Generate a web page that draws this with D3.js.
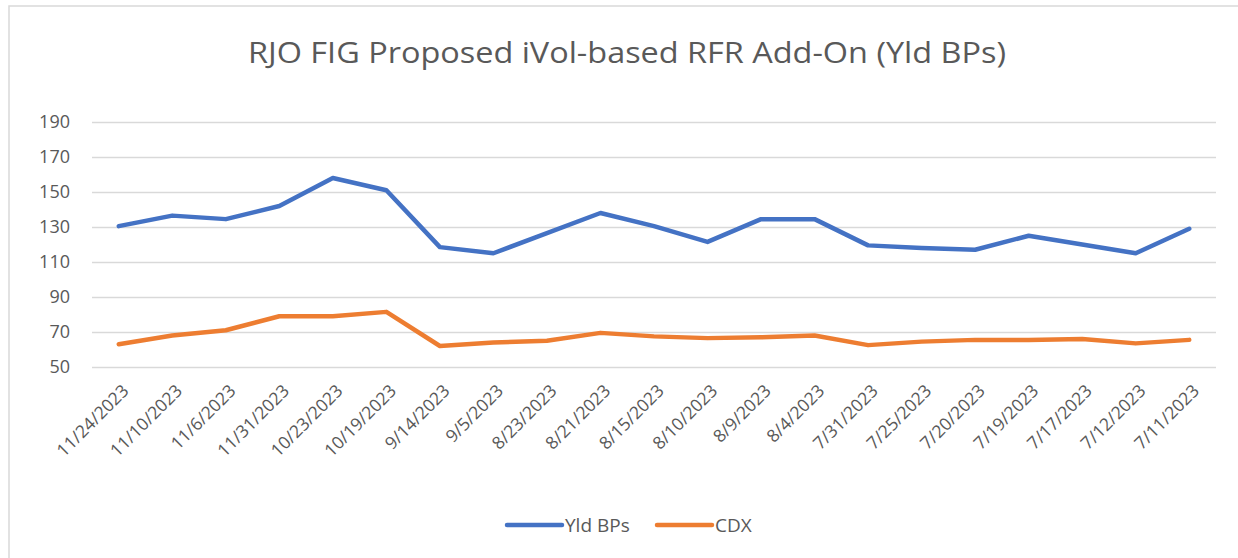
<!DOCTYPE html>
<html lang="en">
<head>
<meta charset="utf-8">
<title>RJO FIG Proposed iVol-based RFR Add-On</title>
<script src="https://d3js.org/d3.v7.min.js"></script>
<style>
  body { margin: 0; background: #fff; }
  text { font-family: "Open Sans", "DejaVu Sans", sans-serif; fill: #595959; }
</style>
</head>
<body>
<script>
'use strict';

// data
var dates = ["11/24/2023", "11/10/2023", "11/6/2023", "11/31/2023", "10/23/2023",
  "10/19/2023", "9/14/2023", "9/5/2023", "8/23/2023", "8/21/2023", "8/15/2023",
  "8/10/2023", "8/9/2023", "8/4/2023", "7/31/2023", "7/25/2023", "7/20/2023",
  "7/19/2023", "7/17/2023", "7/12/2023", "7/11/2023"];
var yldBps = [130.5, 136.5, 134.5, 142, 158, 151, 118.5, 115, 126.5, 138, 130.5,
  121.5, 134.5, 134.5, 119.5, 118, 117, 125, 120, 115, 129];
var cdx = [63, 68, 71, 79, 79, 81.5, 62, 64, 65, 69.5, 67.5,
  66.5, 67, 68, 62.5, 64.5, 65.5, 65.5, 66, 63.5, 65.5];
var yTicks = [50, 70, 90, 110, 130, 150, 170, 190];

var w = 1238, h = 558;
var plotLeft = 92, plotRight = 1216, plotTop = 122, plotBottom = 367;

var svg = d3.select("body").append("svg")
  .attr("width", w).attr("height", h);

// chart border
svg.append("rect")
  .attr("x", 9).attr("y", 6)
  .attr("width", w + 10).attr("height", h + 10)
  .attr("fill", "none")
  .attr("stroke", "#d9d9d9")
  .attr("stroke-width", 1.5);

var xScale = d3.scaleBand()
  .domain(dates)
  .range([plotLeft, plotRight]);
var yScale = d3.scaleLinear()
  .domain([50, 190])
  .range([plotBottom, plotTop]);

// title
svg.append("text")
  .attr("x", 627).attr("y", 63)
  .attr("text-anchor", "middle")
  .attr("font-size", "30px")
  .attr("textLength", 758)
  .attr("lengthAdjust", "spacingAndGlyphs")
  .text("RJO FIG Proposed iVol-based RFR Add-On (Yld BPs)");

// gridlines + y labels
var yAxis = d3.axisLeft(yScale)
  .tickValues(yTicks)
  .tickSize(-(plotRight - plotLeft))
  .tickPadding(22);
var gy = svg.append("g")
  .attr("transform", "translate(" + plotLeft + ",0)")
  .call(yAxis);
gy.select(".domain").remove();
gy.selectAll(".tick line").attr("stroke", "#d9d9d9").attr("stroke-width", 1.5);
gy.selectAll(".tick text").attr("font-size", "18px").attr("fill", "#595959");

// x labels
var xAxis = d3.axisBottom(xScale).tickSize(0).tickPadding(0);
var gx = svg.append("g")
  .attr("transform", "translate(0," + plotBottom + ")")
  .call(xAxis);
gx.select(".domain").remove();
gx.selectAll(".tick text")
  .attr("font-size", "17.5px")
  .attr("fill", "#595959")
  .attr("text-anchor", "end")
  .attr("dy", null)
  .attr("transform", "translate(11,25) rotate(-45)");

// lines
var line = d3.line()
  .x(function(d, i) { return xScale(dates[i]) + xScale.bandwidth() / 2; })
  .y(function(d) { return yScale(d); });

var series = [
  { name: "Yld BPs", values: yldBps, color: "#4472c4" },
  { name: "CDX", values: cdx, color: "#ed7d31" }
];

svg.selectAll("path.series")
  .data(series)
  .enter()
  .append("path")
  .attr("class", "series")
  .attr("d", function(d) { return line(d.values); })
  .attr("fill", "none")
  .attr("stroke", function(d) { return d.color; })
  .attr("stroke-width", 4.5)
  .attr("stroke-linejoin", "round")
  .attr("stroke-linecap", "round");

// legend
var legendX = [507, 657];
var lg = svg.selectAll("g.legend")
  .data(series)
  .enter()
  .append("g")
  .attr("class", "legend")
  .attr("transform", function(d, i) { return "translate(" + legendX[i] + ",525)"; });
lg.append("line")
  .attr("x1", 0).attr("x2", 55)
  .attr("stroke", function(d) { return d.color; })
  .attr("stroke-width", 4.5)
  .attr("stroke-linecap", "round");
lg.append("text")
  .attr("x", 58).attr("y", 7)
  .attr("font-size", "19px")
  .text(function(d) { return d.name; });
</script>
</body>
</html>
